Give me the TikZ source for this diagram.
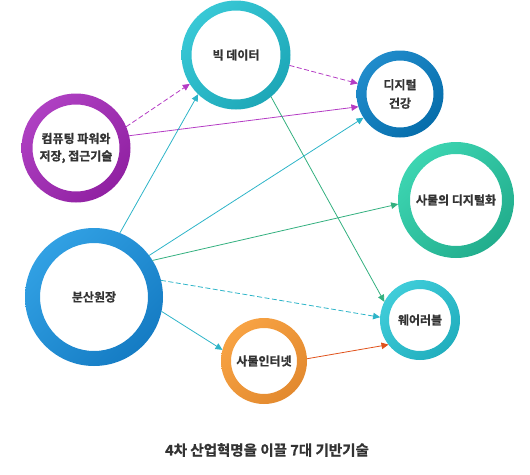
\documentclass[tikz,border=0pt]{standalone}
\usepackage{fontspec}
\usepackage{tikz}
\setmainfont{Noto Sans CJK KR}[BoldFont={Noto Sans CJK KR Bold},BoldFeatures={FakeBold=0.8}]
\usetikzlibrary{arrows.meta,shadings}
\definecolor{bigA}{HTML}{3ECFDC}
\definecolor{bigB}{HTML}{17A0B1}
\definecolor{compA}{HTML}{B547C9}
\definecolor{compB}{HTML}{8A1A9B}
\definecolor{healthA}{HTML}{2692D2}
\definecolor{healthB}{HTML}{0067A4}
\definecolor{thingsA}{HTML}{42DDB9}
\definecolor{thingsB}{HTML}{1CA585}
\definecolor{ledgerA}{HTML}{37A8EA}
\definecolor{ledgerB}{HTML}{0F74BD}
\definecolor{iotA}{HTML}{FCA848}
\definecolor{iotB}{HTML}{DE842A}
\definecolor{wearA}{HTML}{46D3DF}
\definecolor{wearB}{HTML}{1AA8B8}
\definecolor{magline}{HTML}{B43CC4}
\definecolor{cyanline}{HTML}{2DB4C8}
\definecolor{greenline}{HTML}{33B07F}
\definecolor{orangeline}{HTML}{E0521B}
\definecolor{txt}{HTML}{333333}
% ring round a named node: name, outer r, inner r, light, dark
\newcommand{\ring}[5]{\shade[even odd rule,upper left=#4,lower right=#5,upper right=#4!50!#5,lower left=#4!50!#5] (#1.center) circle (#2pt) (#1.center) circle (#3pt);}
\tikzset{
  tech/.style={circle,inner sep=0pt,outer sep=0pt,minimum size=#1,align=center,text=txt,font=\fontsize{12}{18.5}\selectfont\bfseries},
  link/.style={-{Triangle[length=7pt,width=6.5pt]},line width=0.8pt},
  dashline/.style={dash pattern=on 5pt off 2.5pt}
}

\begin{document}
\begin{tikzpicture}[x=1pt,y=-1pt,line cap=butt,line join=round]
  \useasboundingbox (0,0) rectangle (530,474);
  \node[tech=109pt] (big) at (236,55) {빅 데이터};
  \node[tech=109pt] (comp) at (76,148) {\raisebox{-4pt}{\begin{tabular}{@{}c@{}}컴퓨팅 파워와\\[-1pt]저장, 접근기술\end{tabular}}};
  \node[tech=87pt] (health) at (400,94) {디지털\\건강};
  \node[tech=116pt] (things) at (456,200) {사물의 디지털화};
  \node[tech=138pt] (ledger) at (94,297) {분산원장};
  \node[tech=86pt] (iot) at (264,361) {\raisebox{-3pt}{사물인터넷}};
  \node[tech=80pt] (wear) at (420,320) {웨어러블};
  \ring{big}{54.5}{44.5}{bigA}{bigB}
  \ring{comp}{54.5}{43.5}{compA}{compB}
  \ring{health}{43.5}{33.5}{healthA}{healthB}
  \ring{things}{58}{46}{thingsA}{thingsB}
  \ring{ledger}{69}{54}{ledgerA}{ledgerB}
  \ring{iot}{43}{33}{iotA}{iotB}
  \ring{wear}{40}{31}{wearA}{wearB}
  % connectors
  \draw[link,dashline,magline] (comp.23) -- (big.212);
  \draw[link,magline] (comp.13) -- (health.197);
  \draw[link,dashline,magline] (big.349) -- (health.166);
  \draw[link,greenline] (big.310) -- (wear.153);
  \draw[link,cyanline] (ledger.68) -- (big.226);
  \draw[link,cyanline] (ledger.37) -- (health.213);
  \draw[link,greenline] (ledger.32) -- (things.184);
  \draw[link,dashline,cyanline] (ledger.14) -- (wear.176);
  \draw[link,cyanline] (ledger.348) -- (iot.165);
  \draw[link,orangeline] (iot.3) -- (wear.218);
  \node[text=txt,font=\fontsize{14.5}{17}\selectfont\bfseries] (title) at (267,450) {4차 산업혁명을 이끌 7대 기반기술};
\end{tikzpicture}
\end{document}
